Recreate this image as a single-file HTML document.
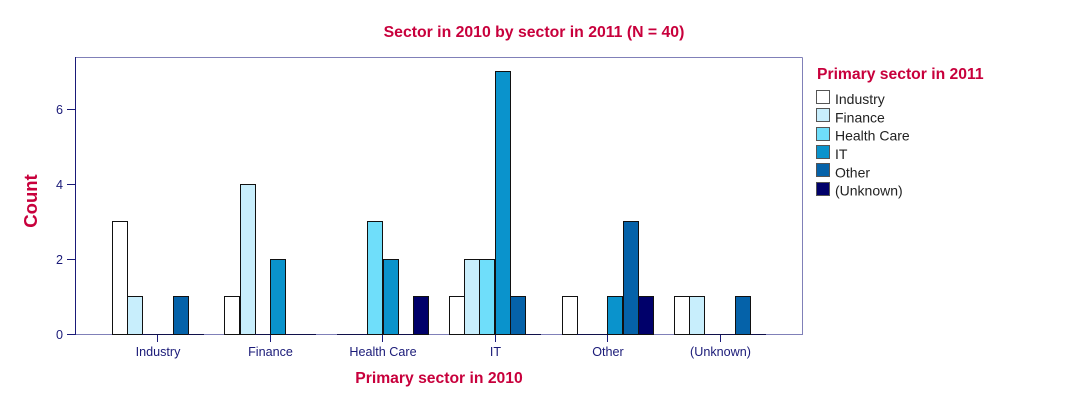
<!DOCTYPE html>
<html>
<head>
<meta charset="utf-8">
<style>
html,body{margin:0;padding:0;background:#fff;}
svg{display:block;}
text{font-family:"Liberation Sans",Arial,sans-serif;}
</style>
</head>
<body>
<svg width="1080" height="406" viewBox="0 0 1080 406" xmlns="http://www.w3.org/2000/svg">
<rect x="0" y="0" width="1080" height="406" fill="#fff"/>
<!-- title -->
<text x="534" y="37" text-anchor="middle" font-size="15.8" font-weight="bold" fill="#c8003c">Sector in 2010 by sector in 2011 (N = 40)</text>

<!-- frame -->
<line x1="75.5" y1="57.5" x2="802.5" y2="57.5" stroke="#8080b8" stroke-width="1"/>
<line x1="802.5" y1="57.5" x2="802.5" y2="334.5" stroke="#8080b8" stroke-width="1"/>
<line x1="75" y1="334.5" x2="803" y2="334.5" stroke="#8080b8" stroke-width="1"/>
<line x1="75.5" y1="57" x2="75.5" y2="335" stroke="#1a1a78" stroke-width="1"/>

<!-- y ticks -->
<g stroke="#1a1a78" stroke-width="1">
<line x1="67" y1="109.5" x2="75" y2="109.5"/>
<line x1="67" y1="184.5" x2="75" y2="184.5"/>
<line x1="67" y1="259.5" x2="75" y2="259.5"/>
<line x1="67" y1="334.5" x2="75" y2="334.5"/>
</g>
<g font-size="12.6" fill="#1a1a78" text-anchor="end">
<text x="63" y="114">6</text>
<text x="63" y="189">4</text>
<text x="63" y="264">2</text>
<text x="63" y="339">0</text>
</g>

<!-- x ticks -->
<g stroke="#1a1a78" stroke-width="1">
<line x1="157.5" y1="334" x2="157.5" y2="342"/>
<line x1="270.5" y1="334" x2="270.5" y2="342"/>
<line x1="382.5" y1="334" x2="382.5" y2="342"/>
<line x1="495.5" y1="334" x2="495.5" y2="342"/>
<line x1="607.5" y1="334" x2="607.5" y2="342"/>
<line x1="720.5" y1="334" x2="720.5" y2="342"/>
</g>
<g font-size="12.6" fill="#1a1a78" text-anchor="middle">
<text x="158" y="356">Industry</text>
<text x="270.5" y="356">Finance</text>
<text x="383" y="356">Health Care</text>
<text x="495.5" y="356">IT</text>
<text x="608" y="356">Other</text>
<text x="720.5" y="356">(Unknown)</text>
</g>

<!-- axis labels -->
<text x="439" y="383" text-anchor="middle" font-size="15.7" font-weight="bold" fill="#c8003c">Primary sector in 2010</text>
<text transform="translate(37,201) rotate(-90)" text-anchor="middle" font-size="18.5" font-weight="bold" fill="#c8003c">Count</text>

<!-- bars -->
<g stroke="#111" stroke-width="1">
<!-- Industry group -->
<rect x="112.5" y="221.5" width="15" height="113" fill="#ffffff"/>
<rect x="127.5" y="296.5" width="15" height="38" fill="#c8eefc"/>
<line x1="142" y1="334.5" x2="173" y2="334.5" stroke="#10104a"/>
<rect x="173.5" y="296.5" width="15" height="38" fill="#0562a9"/>
<line x1="188" y1="334.5" x2="204" y2="334.5" stroke="#10104a"/>

<!-- Finance group -->
<rect x="224.5" y="296.5" width="15" height="38" fill="#ffffff"/>
<rect x="240.5" y="184.5" width="15" height="150" fill="#c8eefc"/>
<line x1="255" y1="334.5" x2="270" y2="334.5" stroke="#10104a"/>
<rect x="270.5" y="259.5" width="15" height="75" fill="#0a93cc"/>
<line x1="286" y1="334.5" x2="316" y2="334.5" stroke="#10104a"/>

<!-- Health Care group -->
<line x1="337" y1="334.5" x2="367" y2="334.5" stroke="#10104a"/>
<rect x="367.5" y="221.5" width="15" height="113" fill="#6fdefa"/>
<rect x="383.5" y="259.5" width="15" height="75" fill="#0a93cc"/>
<line x1="398" y1="334.5" x2="413" y2="334.5" stroke="#10104a"/>
<rect x="413.5" y="296.5" width="15" height="38" fill="#00006a"/>

<!-- IT group -->
<rect x="449.5" y="296.5" width="15" height="38" fill="#ffffff"/>
<rect x="464.5" y="259.5" width="15" height="75" fill="#c8eefc"/>
<rect x="479.5" y="259.5" width="15" height="75" fill="#6fdefa"/>
<rect x="495.5" y="71.5" width="15" height="263" fill="#0a93cc"/>
<rect x="510.5" y="296.5" width="15" height="38" fill="#0562a9"/>
<line x1="526" y1="334.5" x2="541" y2="334.5" stroke="#10104a"/>

<!-- Other group -->
<rect x="562.5" y="296.5" width="15" height="38" fill="#ffffff"/>
<line x1="577" y1="334.5" x2="608" y2="334.5" stroke="#10104a"/>
<rect x="607.5" y="296.5" width="15" height="38" fill="#0a93cc"/>
<rect x="623.5" y="221.5" width="15" height="113" fill="#0562a9"/>
<rect x="638.5" y="296.5" width="15" height="38" fill="#00006a"/>

<!-- Unknown group -->
<rect x="674.5" y="296.5" width="15" height="38" fill="#ffffff"/>
<rect x="689.5" y="296.5" width="15" height="38" fill="#c8eefc"/>
<line x1="705" y1="334.5" x2="736" y2="334.5" stroke="#10104a"/>
<rect x="735.5" y="296.5" width="15" height="38" fill="#0562a9"/>
<line x1="751" y1="334.5" x2="766" y2="334.5" stroke="#10104a"/>
</g>

<!-- legend -->
<text x="817" y="79" font-size="15.7" font-weight="bold" fill="#c8003c">Primary sector in 2011</text>
<g stroke="#555" stroke-width="1">
<rect x="816.5" y="90.5" width="13" height="13" fill="#ffffff"/>
<rect x="816.5" y="108.5" width="13" height="13" fill="#c8eefc"/>
<rect x="816.5" y="127.5" width="13" height="13" fill="#6fdefa"/>
<rect x="816.5" y="145.5" width="13" height="13" fill="#0a93cc"/>
<rect x="816.5" y="163.5" width="13" height="13" fill="#0562a9"/>
<rect x="816.5" y="182.5" width="13" height="13" fill="#00006a"/>
</g>
<g font-size="14" fill="#222">
<text x="835" y="104">Industry</text>
<text x="835" y="122.3">Finance</text>
<text x="835" y="140.7">Health Care</text>
<text x="835" y="159">IT</text>
<text x="835" y="177.3">Other</text>
<text x="835" y="195.7">(Unknown)</text>
</g>
</svg>
</body>
</html>
